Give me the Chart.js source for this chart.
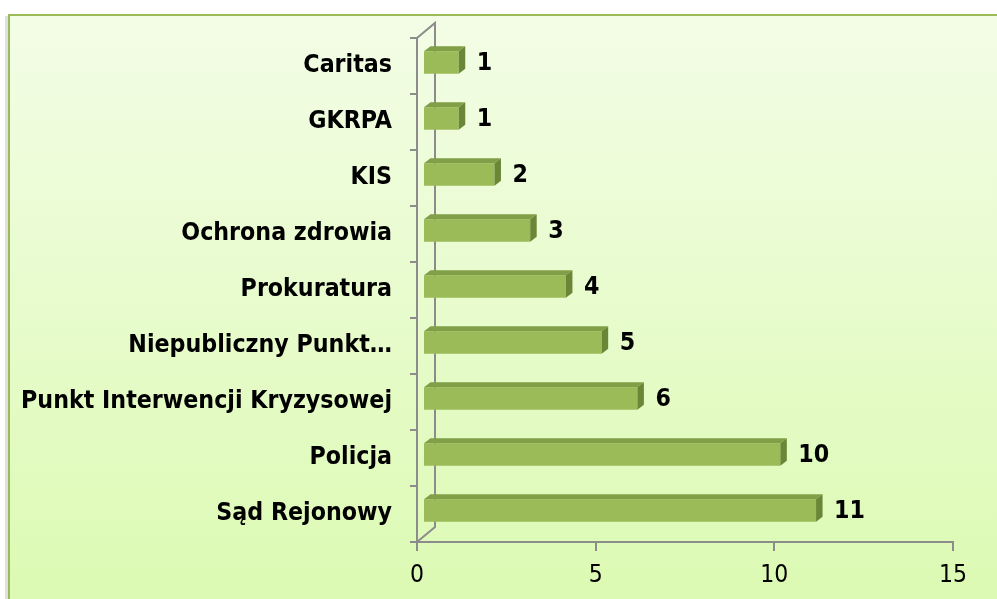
<!DOCTYPE html>
<html>
<head>
<meta charset="utf-8">
<script src="https://cdn.jsdelivr.net/npm/chart.js@4.4.1/dist/chart.umd.min.js"></script>
<style>
  html, body { margin: 0; padding: 0; background: #fff; }
</style>
</head>
<body>
<canvas id="bar-chart" width="997" height="599"></canvas>
<script>
var categorie = ['Caritas', 'GKRPA', 'KIS', 'Ochrona zdrowia', 'Prokuratura', 'Niepubliczny Punkt…', 'Punkt Interwencji Kryzysowej', 'Policja', 'Sąd Rejonowy'];
var valori = [1, 1, 2, 3, 4, 5, 6, 10, 11];
var tickX = [0, 5, 10, 15];

var FONT = '"DejaVu Sans Condensed", "DejaVu Sans", sans-serif';

// offset 3D
var DX = 6, DY = -3.5, TOP = 5, SIDE = 6.5;
var WALL_X = 18, WALL_Y = -15;
var grigio = '#8c8c8c';

var sfondo = {
    id: 'sfondo',
    beforeDraw: function (chart) {
        var ctx = chart.ctx;
        ctx.save();
        ctx.fillStyle = '#ffffff';
        ctx.fillRect(0, 0, chart.width, chart.height);
        // ombra
        ctx.fillStyle = 'rgba(0,0,0,0.12)';
        ctx.fillRect(5, 16, 3, chart.height);
        var g = ctx.createLinearGradient(0, 14, 0, chart.height);
        g.addColorStop(0, '#f3fde6');
        g.addColorStop(1, '#dcfab3');
        ctx.fillStyle = g;
        ctx.fillRect(8, 14, chart.width, chart.height);
        ctx.strokeStyle = '#9bbb59';
        ctx.lineWidth = 2;
        ctx.strokeRect(9, 15, chart.width + 10, chart.height + 10);
        ctx.restore();
    },
    beforeDatasetsDraw: function (chart) {
        var ctx = chart.ctx, a = chart.chartArea;
        // parete di fondo
        ctx.save();
        ctx.strokeStyle = grigio;
        ctx.lineWidth = 2;
        ctx.beginPath();
        ctx.moveTo(a.left, a.top);
        ctx.lineTo(a.left + WALL_X, a.top + WALL_Y);
        ctx.lineTo(a.left + WALL_X, a.bottom + WALL_Y);
        ctx.lineTo(a.left, a.bottom);
        ctx.stroke();
        ctx.restore();
        ctx.save();
        ctx.translate(DX, DY);
    },
    afterDatasetsDraw: function (chart) {
        var ctx = chart.ctx;
        var meta = chart.getDatasetMeta(0);
        meta.data.forEach(function (bar, i) {
            var x0 = bar.base, x1 = bar.x, h = bar.height;
            var y0 = bar.y - h / 2, y1 = bar.y + h / 2;
            // faccia superiore
            ctx.fillStyle = '#809f46';
            ctx.beginPath();
            ctx.moveTo(x0, y0);
            ctx.lineTo(x0 + SIDE, y0 - TOP);
            ctx.lineTo(x1 + SIDE, y0 - TOP);
            ctx.lineTo(x1, y0);
            ctx.closePath();
            ctx.fill();
            // faccia laterale
            ctx.fillStyle = '#6a8636';
            ctx.beginPath();
            ctx.moveTo(x1, y0);
            ctx.lineTo(x1 + SIDE, y0 - TOP);
            ctx.lineTo(x1 + SIDE, y1 - TOP);
            ctx.lineTo(x1, y1);
            ctx.closePath();
            ctx.fill();
            // etichetta valore
            ctx.fillStyle = '#000';
            ctx.font = 'bold 24.7px ' + FONT;
            ctx.textAlign = 'left';
            ctx.textBaseline = 'middle';
            ctx.fillText(valori[i], x1 + 18, bar.y + 1);
        });
        ctx.restore();
    }
};

var ctx = document.getElementById('bar-chart');
var chart = new Chart(ctx, {
    type: 'bar',
    data: {
        labels: categorie,
        datasets: [{
            data: valori,
            backgroundColor: '#9bbb59',
            borderWidth: 0,
            barPercentage: 0.4,
            categoryPercentage: 1
        }]
    },
    options: {
        indexAxis: 'y',
        responsive: false,
        animation: false,
        events: [],
        layout: { padding: { top: 38, right: 44, bottom: 0, left: 0 } },
        plugins: { legend: { display: false }, tooltip: { enabled: false } },
        scales: {
            x: {
                min: 0, max: 15,
                afterBuildTicks: function (s) { s.ticks = tickX.map(function (v) { return { value: v }; }); },
                afterFit: function (s) { s.height = 57; },
                grid: { drawOnChartArea: false, color: grigio, tickLength: 9, lineWidth: 2 },
                border: { color: grigio, width: 2 },
                ticks: { color: '#000', font: { family: FONT, size: 24.5 }, padding: 10 }
            },
            y: {
                afterFit: function (s) { s.width = 417; },
                grid: { drawOnChartArea: false, color: grigio, tickLength: 7, lineWidth: 2 },
                border: { color: grigio, width: 2 },
                ticks: { color: '#000', font: { family: FONT, size: 24.7, weight: 'bold' }, padding: 18 }
            }
        }
    },
    plugins: [sfondo]
});
</script>
</body>
</html>
